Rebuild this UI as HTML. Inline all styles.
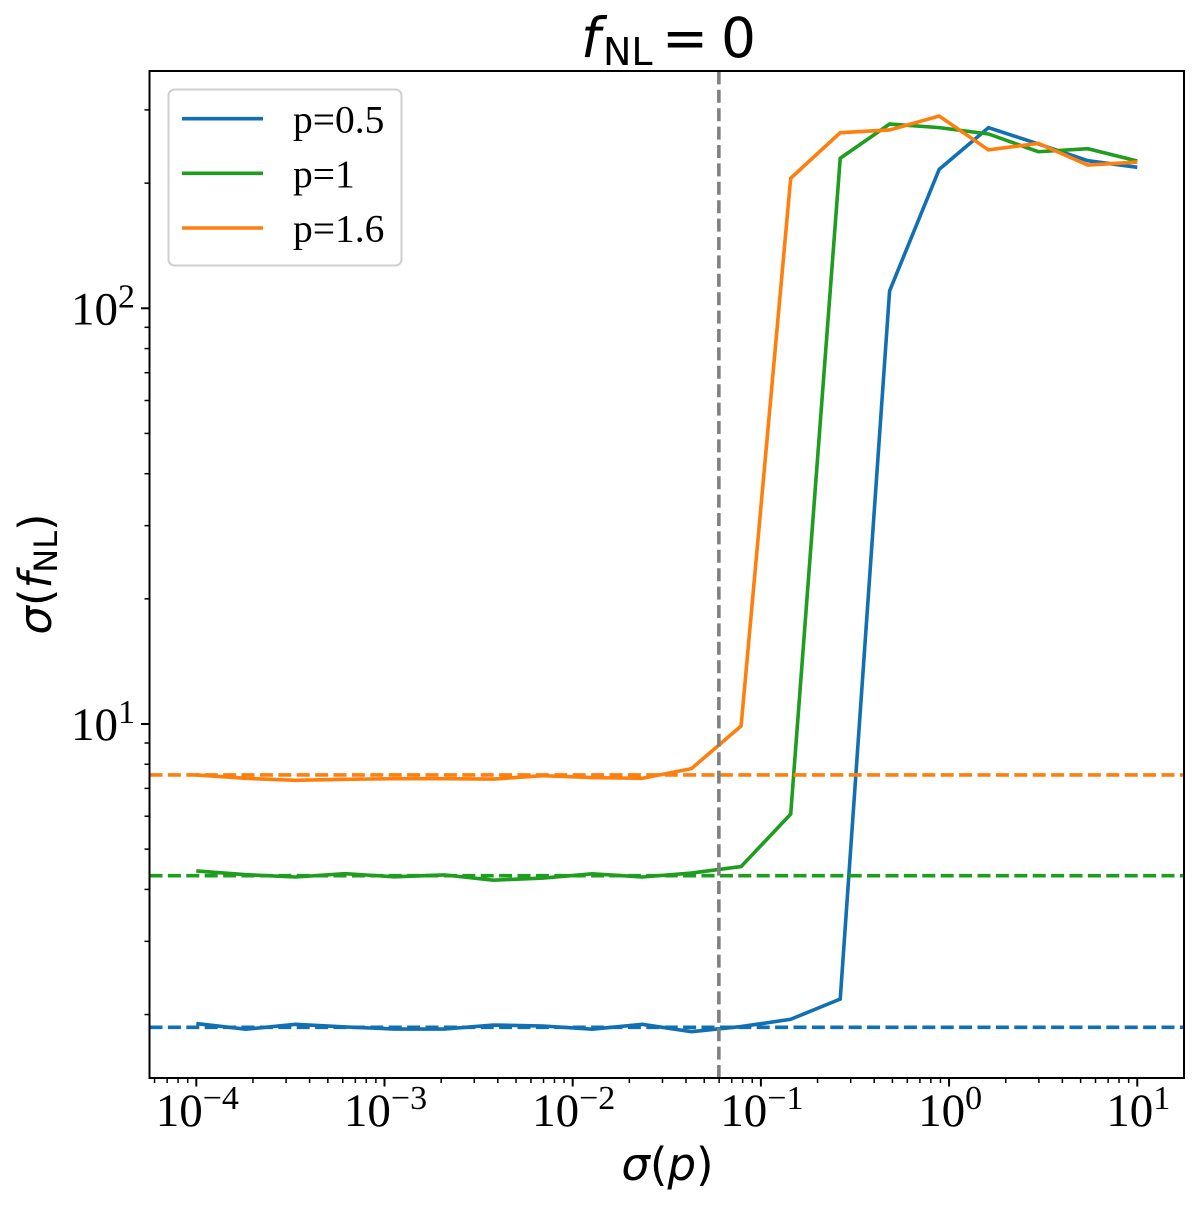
<!DOCTYPE html>
<html>
<head>
<meta charset="utf-8">
<title>f_NL = 0 chart</title>
<style>
html,body{margin:0;padding:0;background:#fff;}
svg{display:block;}
.serif{font-family:"Liberation Serif",serif;fill:#000;}
.dejavu{font-family:"DejaVu Sans",sans-serif;fill:#000;}
</style>
</head>
<body>
<svg id="chart" xmlns="http://www.w3.org/2000/svg" width="1200" height="1208" viewBox="0 0 1200 1208">
  <rect x="0" y="0" width="1200" height="1208" fill="#fff"/>
  <g id="series-layer"></g>
  <g id="ref-layer"></g>
  <rect x="149.5" y="71" width="1034.5" height="1007" fill="none" stroke="#000" stroke-width="2"/>
  <g id="tick-layer"></g>
  <text class="dejavu" y="57" font-size="55"><tspan font-style="italic" x="581">f</tspan><tspan font-size="38" x="603" dy="8">NL</tspan><tspan x="662" dy="-8">=</tspan><tspan x="721">0</tspan></text>
  <text class="dejavu" x="667.5" y="1180" font-size="45" text-anchor="middle"><tspan font-style="italic">σ</tspan>(<tspan font-style="italic">p</tspan>)</text>
  <text class="dejavu" transform="translate(51,574) rotate(-90)" font-size="45" text-anchor="middle"><tspan font-style="italic">σ</tspan>(<tspan font-style="italic">f</tspan><tspan font-size="32" dy="6">NL</tspan><tspan dy="-6">)</tspan></text>
  <g>
    <rect x="168.5" y="89.5" width="233" height="176" rx="6" ry="6" fill="#fff" fill-opacity="0.8" stroke="#cfcfcf" stroke-width="2"/>
    <line x1="182" x2="263" y1="118.7" y2="118.7" stroke="#1170b4" stroke-width="3.6"/>
    <text class="serif" x="293" y="132.3" font-size="39.5">p=0.5</text>
    <line x1="182" x2="263" y1="173.3" y2="173.3" stroke="#1f9d1f" stroke-width="3.6"/>
    <text class="serif" x="293" y="187" font-size="39.5">p=1</text>
    <line x1="182" x2="263" y1="228" y2="228" stroke="#ff7f0e" stroke-width="3.6"/>
    <text class="serif" x="293" y="241.7" font-size="39.5">p=1.6</text>
  </g>
</svg>
<script>
// Data
const sigmaP = [1e-4, 1.83e-4, 3.36e-4, 6.16e-4, 1.13e-3, 2.07e-3, 3.79e-3, 6.95e-3, 1.27e-2, 2.34e-2, 4.28e-2, 7.85e-2, 0.144, 0.264, 0.483, 0.886, 1.62, 2.98, 5.46, 10];
const fnlP05 = [1.903, 1.844, 1.895, 1.867, 1.846, 1.846, 1.887, 1.877, 1.844, 1.895, 1.819, 1.871, 1.948, 2.18, 110.1, 215.9, 272, 248.5, 226.5, 218.3];
const fnlP1 = [4.43, 4.34, 4.285, 4.365, 4.29, 4.335, 4.21, 4.26, 4.36, 4.285, 4.38, 4.54, 6.07, 229.5, 277.5, 272, 262.6, 238, 242, 226.1];
const fnlP16 = [7.54, 7.40, 7.32, 7.36, 7.385, 7.385, 7.37, 7.51, 7.43, 7.40, 7.81, 9.89, 205.5, 264.5, 268.5, 290, 240.4, 249.4, 221.1, 224.8];
const baselineP05 = 1.864;
const baselineP1 = 4.317;
const baselineP16 = 7.54;
const priorSigmaP = 0.0598;
const xDecades = [-4, -3, -2, -1, 0, 1];
const xTickLabels = ["\u22124", "\u22123", "\u22122", "\u22121", "0", "1"];
const yDecades = [1, 2];
const yTickLabels = ["1", "2"];
const minorMultipliers = [2, 3, 4, 5, 6, 7, 8, 9];

// Axis functions
const plotLeft = 149.5, plotRight = 1184, plotTop = 71, plotBottom = 1078;
const xMinLog = -4.2487, xMaxLog = 1.2483, yMinLog = 0.1484, yMaxLog = 2.5708;
function xScale(v){ return plotLeft + (Math.log10(v) - xMinLog) / (xMaxLog - xMinLog) * (plotRight - plotLeft); }
function yScale(v){ return plotBottom - (Math.log10(v) - yMinLog) / (yMaxLog - yMinLog) * (plotBottom - plotTop); }

const NS = 'http://www.w3.org/2000/svg';
const seriesLayer = document.getElementById('series-layer');
const refLayer = document.getElementById('ref-layer');
const tickLayer = document.getElementById('tick-layer');

function drawSeries(values, color, name){
  const el = document.createElementNS(NS, 'polyline');
  
  
  el.setAttribute('points', values.map((v, i) => xScale(sigmaP[i]).toFixed(2) + ',' + yScale(v).toFixed(2)).join(' '));
  el.setAttribute('fill', 'none');
  el.setAttribute('stroke', color);
  el.setAttribute('stroke-width', '3.6');
  el.setAttribute('stroke-linejoin', 'miter');
  seriesLayer.appendChild(el);
}
function drawBaseline(value, color, name){
  const el = document.createElementNS(NS, 'line');
  
  
  el.setAttribute('x1', plotLeft);
  el.setAttribute('x2', plotRight);
  el.setAttribute('y1', yScale(value));
  el.setAttribute('y2', yScale(value));
  el.setAttribute('stroke', color);
  el.setAttribute('stroke-width', '3.6');
  el.setAttribute('stroke-dasharray', '13 5.4');
  refLayer.appendChild(el);
}
function drawTick(x1, y1, x2, y2, width, name){
  const el = document.createElementNS(NS, 'line');
  
  
  el.setAttribute('x1', x1);
  el.setAttribute('y1', y1);
  el.setAttribute('x2', x2);
  el.setAttribute('y2', y2);
  el.setAttribute('stroke', '#000');
  el.setAttribute('stroke-width', width);
  tickLayer.appendChild(el);
}
function drawPowerLabel(x, y, anchor, expText, name){
  const el = document.createElementNS(NS, 'text');
  
  
  el.setAttribute('class', 'serif');
  el.setAttribute('x', x);
  el.setAttribute('y', y);
  el.setAttribute('text-anchor', anchor);
  el.setAttribute('font-size', '47');
  const exp = document.createElementNS(NS, 'tspan');
  exp.setAttribute('font-size', '34');
  exp.setAttribute('dy', '-17');
  exp.textContent = expText;
  el.appendChild(document.createTextNode('10'));
  el.appendChild(exp);
  tickLayer.appendChild(el);
}

drawSeries(fnlP05, '#1170b4', 'line-p05');
drawSeries(fnlP1, '#1f9d1f', 'line-p1');
drawSeries(fnlP16, '#ff7f0e', 'line-p16');
drawBaseline(baselineP05, '#1170b4', 'baseline-p05');
drawBaseline(baselineP1, '#1f9d1f', 'baseline-p1');
drawBaseline(baselineP16, '#ff7f0e', 'baseline-p16');

const priorLine = document.createElementNS(NS, 'line');


priorLine.setAttribute('x1', xScale(priorSigmaP));
priorLine.setAttribute('x2', xScale(priorSigmaP));
priorLine.setAttribute('y1', plotBottom);
priorLine.setAttribute('y2', plotTop);
priorLine.setAttribute('stroke', '#808080');
priorLine.setAttribute('stroke-width', '3.6');
priorLine.setAttribute('stroke-dasharray', '13 5.4');
refLayer.appendChild(priorLine);

// X ticks
xDecades.forEach((d, i) => {
  const px = xScale(Math.pow(10, d));
  drawTick(px, plotBottom, px, plotBottom + 8.5, 2, 'x-major-tick');
  drawPowerLabel(px + 1, 1126, 'middle', xTickLabels[i], 'x-tick-label');
});
for (let d = -5; d <= 1; d++) {
  minorMultipliers.forEach(m => {
    const v = m * Math.pow(10, d);
    const lg = Math.log10(v);
    if (lg > xMinLog && lg < xMaxLog) {
      const px = xScale(v);
      drawTick(px, plotBottom, px, plotBottom + 5, 1.5, 'x-minor-tick');
    }
  });
}
// Y ticks
yDecades.forEach((d, i) => {
  const py = yScale(Math.pow(10, d));
  drawTick(plotLeft, py, plotLeft - 8.5, py, 2, 'y-major-tick');
  drawPowerLabel(135, py + 16, 'end', yTickLabels[i], 'y-tick-label');
});
for (let d = 0; d <= 2; d++) {
  minorMultipliers.forEach(m => {
    const v = m * Math.pow(10, d);
    const lg = Math.log10(v);
    if (lg > yMinLog && lg < yMaxLog) {
      const py = yScale(v);
      drawTick(plotLeft, py, plotLeft - 5, py, 1.5, 'y-minor-tick');
    }
  });
}
</script>
</body>
</html>
